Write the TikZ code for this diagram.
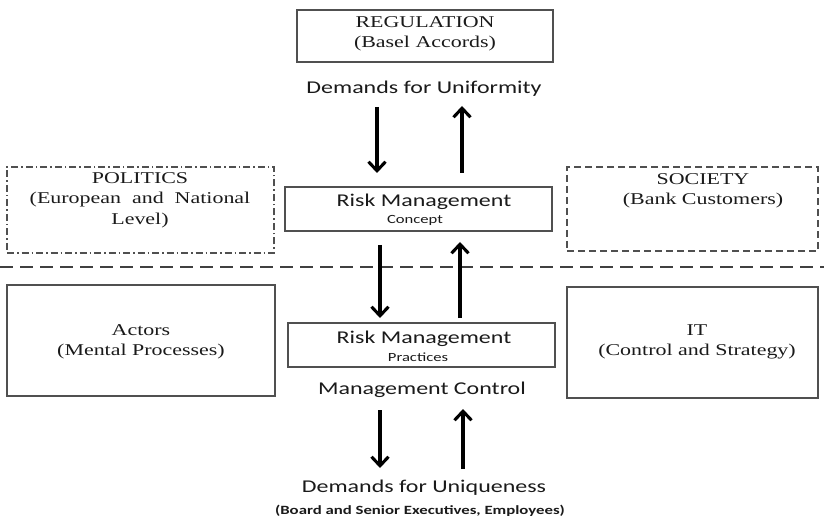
\documentclass[tikz,border=0pt]{standalone}
\usepackage{fontspec}
\usepackage{graphicx}
\setmainfont{Liberation Serif}
\newfontfamily\calfont{Carlito}
\usetikzlibrary{arrows.meta}
\definecolor{boxgray}{HTML}{505050}
\definecolor{txtgray}{HTML}{1A1A1A}
\definecolor{linegray}{HTML}{404040}
\newcommand\sx[1]{\scalebox{1.33}[1]{#1}}
\begin{document}
\begin{tikzpicture}[x=1pt,y=-1pt,
  box/.style={draw=boxgray, line width=1.6pt, inner sep=0pt},
  serifl/.style={font=\fontsize{16.5}{20.5}\selectfont, text=txtgray, align=center, inner sep=0pt},
  sansl/.style={font=\calfont\fontsize{18}{20}\selectfont, text=txtgray, align=center, inner sep=0pt},
  smalll/.style={font=\calfont\bfseries\fontsize{12.6}{14}\selectfont, text=txtgray, align=center, inner sep=0pt},
  subl/.style={font=\calfont\fontsize{12.5}{14}\selectfont, text=txtgray, align=center, inner sep=0pt},
  arr/.style={line width=3.1pt, -{Straight Barb[length=9pt,width=17pt]}}]
\useasboundingbox (0,0) rectangle (824,529);

% boxes
\node[box, minimum width=256pt, minimum height=52pt] (reg) at (425,36) {};
\node[box, dash pattern=on 7pt off 3pt on 1.5pt off 3pt, minimum width=267pt, minimum height=86pt] (pol) at (140.5,210) {};
\node[box, dash pattern=on 7pt off 4pt, minimum width=251pt, minimum height=84pt] (soc) at (692.5,209) {};
\node[box, minimum width=267pt, minimum height=44pt] (rmc) at (418.5,209) {};
\node[box, minimum width=267pt, minimum height=44pt] (rmp) at (421.5,345) {};
\node[box, minimum width=268pt, minimum height=111pt] (act) at (141,340.5) {};
\node[box, minimum width=251pt, minimum height=111pt] (it) at (692.5,342.5) {};

% separator
\coordinate (sepl) at (0,267);
\coordinate (sepr) at (824,267);
\draw[linegray, line width=2.8pt, dash pattern=on 13pt off 7pt] (sepl) -- (sepr);

% labels
\node[serifl] (regt) at (425,34) {\sx{REGULATION}\\\sx{(Basel Accords)}};
\node[serifl] (polt) at (140,200) {\sx{POLITICS}\\\sx{(European\hspace{0.5em}and\hspace{0.5em}National}\\\sx{Level)}};
\node[serifl] (soct) at (703,191) {\sx{SOCIETY}\\\sx{(Bank Customers)}};
\node[serifl] (actt) at (141,342) {\sx{Actors}\\\sx{(Mental Processes)}};
\node[serifl] (itt) at (697,342) {\sx{IT}\\\sx{(Control and Strategy)}};

\node[sansl] (rmct) at (424,202) {\sx{Risk Management}};
\node[subl] (rmcs) at (415,220) {\sx{Concept}};
\node[sansl] (rmpt) at (424,339) {\sx{Risk Management}};
\node[subl] (rmps) at (418,357) {\sx{Practices}};

\node[sansl] (unif) at (424,89) {\sx{Demands for Uniformity}};
\node[sansl] (mctl) at (422,390) {\sx{Management Control}};
\node[sansl] (uniq) at (424,488) {\sx{Demands for Uniqueness}};
\node[smalll] (board) at (420,511) {\sx{(Board and Senior Executives, Employees)}};

% arrows
\coordinate (t1a) at (377,107); \coordinate (t1b) at (377,173);
\coordinate (t2a) at (462,173); \coordinate (t2b) at (462,106);
\coordinate (m1a) at (380,245); \coordinate (m1b) at (380,318);
\coordinate (m2a) at (460,318); \coordinate (m2b) at (460,242);
\coordinate (b1a) at (380,410); \coordinate (b1b) at (380,468);
\coordinate (b2a) at (463,469); \coordinate (b2b) at (463,409);
\draw[arr] (t1a) -- (t1b);
\draw[arr] (t2a) -- (t2b);
\draw[arr] (m1a) -- (m1b);
\draw[arr] (m2a) -- (m2b);
\draw[arr] (b1a) -- (b1b);
\draw[arr] (b2a) -- (b2b);
\end{tikzpicture}
\end{document}
